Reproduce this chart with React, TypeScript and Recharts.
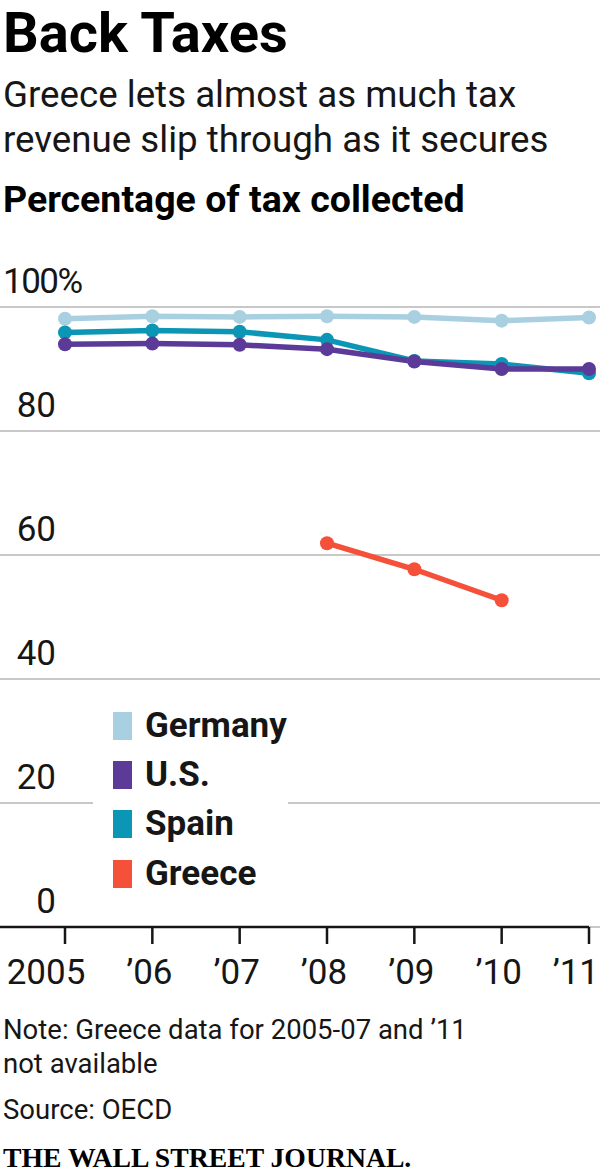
import { LineChart, Line, XAxis, YAxis, CartesianGrid, Legend } from "recharts";

const years = ["2005", "’06", "’07", "’08", "’09", "’10", "’11"];
const germany = [98.1, 98.5, 98.4, 98.5, 98.4, 97.8, 98.3];
const spain = [95.9, 96.2, 96.0, 94.7, 91.3, 90.8, 89.3];
const us = [94.0, 94.1, 93.9, 93.2, 91.2, 90.0, 90.0];
const greece = [null, null, null, 61.9, 57.7, 52.7, null];
const yTicks = [0, 20, 40, 60, 80, 100];

// legend order differs from drawing order (U.S. sits on top of Spain)
const legendItems = [
  { name: "Germany", color: "#a9d0e0" },
  { name: "U.S.", color: "#5b3b97" },
  { name: "Spain", color: "#0b96b6" },
  { name: "Greece", color: "#f5513a" },
];

const data = years.map((year, i) => ({
  year,
  germany: germany[i],
  spain: spain[i],
  us: us[i],
  greece: greece[i],
}));

const FONT = "Roboto, 'Liberation Sans', sans-serif";
const INK = "#161616";
const CHART_W = 600;
const CHART_H = 740;
const PAD_LEFT = 65;
const PAD_RIGHT = 11;

const YTick = (props: any) => {
  const { y, payload } = props;
  const v = payload.value;
  if (v === 100) {
    return (
      <text x={3} y={y - 14} textAnchor="start" fontSize={35} letterSpacing={-1.5} fill={INK} fontFamily={FONT}>
        100%
      </text>
    );
  }
  return (
    <g>
      {v === 0 && (
        <line x1={0} x2={CHART_W - PAD_RIGHT} y1={y} y2={y} stroke={INK} strokeWidth={2.5} />
      )}
      <text x={56} y={y - 14} textAnchor="end" fontSize={35} fill={INK} fontFamily={FONT}>
        {v}
      </text>
    </g>
  );
};

const XTick = (props: any) => {
  const { x, y, payload, index } = props;
  const last = index === years.length - 1;
  return (
    <text
      x={x + (index === 0 ? -19 : last ? 10 : -3)}
      y={y + 38}
      textAnchor={last ? "end" : "middle"}
      fontSize={35}
      fill={INK}
      fontFamily={FONT}
    >
      {payload.value}
    </text>
  );
};

const LegendBox = () => (
  <div style={{ background: "#fff", padding: "6px 0 6px 20px", fontFamily: FONT }}>
    {legendItems.map((item) => (
      <div key={item.name} style={{ display: "flex", alignItems: "center", height: 49.4 }}>
        <div style={{ width: 19, height: 28, background: item.color, marginRight: 13 }} />
        <span style={{ fontSize: 35, fontWeight: 700, color: INK, lineHeight: "28px" }}>
          {item.name}
        </span>
      </div>
    ))}
  </div>
);

export default function App() {
  return (
    <div
      style={{
        position: "absolute",
        left: 0,
        top: 0,
        width: 600,
        height: 1173,
        background: "#fff",
        fontFamily: FONT,
        color: INK,
        overflow: "hidden",
      }}
    >
      <div style={{ position: "absolute", left: 3, top: 5, fontSize: 56, fontWeight: 700, lineHeight: 1, color: "#000" }}>
        Back Taxes
      </div>
      <div style={{ position: "absolute", left: 3, top: 72, fontSize: 36.7, lineHeight: "45px" }}>
        Greece lets almost as much tax
        <br />
        revenue slip through as it secures
      </div>
      <div style={{ position: "absolute", left: 3, top: 181, fontSize: 37.5, fontWeight: 700, lineHeight: 1, color: "#000" }}>
        Percentage of tax collected
      </div>

      <div style={{ position: "absolute", left: 0, top: 260 }}>
        <LineChart width={CHART_W} height={CHART_H} data={data} margin={{ top: 47, right: 0, left: 0, bottom: 13 }}>
          <CartesianGrid vertical={false} stroke="#c8c8c8" strokeWidth={2} />
          <XAxis
            dataKey="year"
            padding={{ left: PAD_LEFT, right: PAD_RIGHT }}
            axisLine={false}
            tickLine={{ stroke: INK, strokeWidth: 2.5 }}
            tickSize={17}
            height={60}
            interval={0}
            tick={<XTick />}
          />
          <YAxis
            domain={[0, 100]}
            ticks={yTicks}
            mirror
            width={60}
            axisLine={false}
            tickLine={false}
            interval={0}
            tick={<YTick />}
          />
          <Legend
            layout="vertical"
            align="center"
            verticalAlign="middle"
            wrapperStyle={{ left: 93, top: 435, width: 195 }}
            content={<LegendBox />}
          />
          <Line dataKey="germany" name="Germany" stroke="#a9d0e0" strokeWidth={5.5} dot={{ r: 7, fill: "#a9d0e0", stroke: "none" }} activeDot={false} isAnimationActive={false} />
          <Line dataKey="spain" name="Spain" stroke="#0b96b6" strokeWidth={5.5} dot={{ r: 7, fill: "#0b96b6", stroke: "none" }} activeDot={false} isAnimationActive={false} />
          <Line dataKey="us" name="U.S." stroke="#5b3b97" strokeWidth={5.5} dot={{ r: 7, fill: "#5b3b97", stroke: "none" }} activeDot={false} isAnimationActive={false} />
          <Line dataKey="greece" name="Greece" stroke="#f5513a" strokeWidth={5.5} dot={{ r: 7, fill: "#f5513a", stroke: "none" }} activeDot={false} isAnimationActive={false} />
        </LineChart>
      </div>

      <div style={{ position: "absolute", left: 3, top: 1013, fontSize: 27.5, lineHeight: "33.5px" }}>
        Note: Greece data for 2005-07 and ’11
        <br />
        not available
      </div>
      <div style={{ position: "absolute", left: 3, top: 1093, fontSize: 27.5, lineHeight: "33.5px" }}>
        Source: OECD
      </div>
      <div
        style={{
          position: "absolute",
          left: 3,
          top: 1144,
          fontSize: 27.7,
          lineHeight: 1,
          fontWeight: 700,
          fontFamily: "'Liberation Serif', 'DejaVu Serif', serif",
          color: "#000",
        }}
      >
        THE WALL STREET JOURNAL.
      </div>
    </div>
  );
}
